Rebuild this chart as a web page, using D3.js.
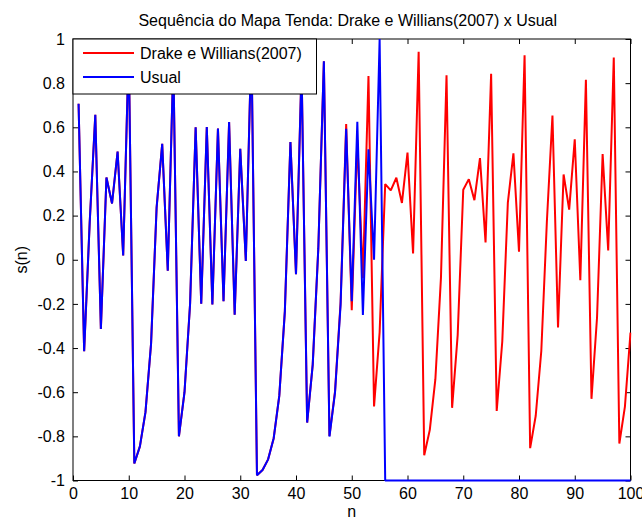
<!DOCTYPE html>
<html><head><meta charset="utf-8">
<script src="https://cdn.jsdelivr.net/npm/d3@7"></script>
<style>
body{margin:0;background:#fff}
svg{display:block}
text{font-family:"Liberation Sans",Arial,sans-serif;fill:#000}
</style>
</head><body>
<svg id="chart" width="642" height="520"></svg>
<script>
// ---------- data ----------
const chartTitle = "Sequência do Mapa Tenda: Drake e Willians(2007) x Usual";
const xLabel = "n";
const yLabel = "s(n)";
const seriesNames = ["Drake e Willians(2007)", "Usual"];
const seriesColors = ["#ff0000", "#0000ff"];

// s(n), n = 1..100
const drakeWillians = [
  0.7071, -0.4142, 0.1716, 0.6569, -0.3137, 0.3726, 0.2548, 0.4903, 0.0193, 0.9613,
  -0.9227, -0.8453, -0.6906, -0.3812, 0.2375, 0.5250, -0.0500, 0.9000, -0.8000, -0.6001,
  -0.2002, 0.5996, -0.1992, 0.6015, -0.2030, 0.5939, -0.1879, 0.6243, -0.2485, 0.5030,
  -0.0060, 0.9880, -0.9761, -0.9521, -0.9042, -0.8084, -0.6168, -0.2336, 0.5328, -0.0656,
  0.8687, -0.7374, -0.4749, 0.0502, 0.8995, -0.7982, -0.5964, -0.1927, 0.6145, -0.2290,
  0.5419, -0.0839, 0.8322, -0.6643, -0.3286, 0.3428, 0.3143, 0.3714, 0.2572, 0.4856,
  0.0287, 0.9426, -0.8853, -0.7706, -0.5412, -0.0823, 0.8353, -0.6707, -0.3413, 0.3174,
  0.3652, 0.2697, 0.4607, 0.0787, 0.8426, -0.6852, -0.3704, 0.2592, 0.4817, 0.0367,
  0.9267, -0.8533, -0.7067, -0.4133, 0.1733, 0.6533, -0.3067, 0.3865, 0.2270, 0.5460,
  -0.0925, 0.8150, -0.6300, -0.2605, 0.4790, 0.0420, 0.9160, -0.8325, -0.6650, -0.3300
];
const usual = [
  0.7071, -0.4142, 0.1716, 0.6569, -0.3137, 0.3726, 0.2548, 0.4903, 0.0193, 0.9613,
  -0.9227, -0.8453, -0.6906, -0.3812, 0.2375, 0.5250, -0.0500, 0.9000, -0.8000, -0.6001,
  -0.2002, 0.5996, -0.1992, 0.6015, -0.2030, 0.5939, -0.1879, 0.6243, -0.2485, 0.5030,
  -0.0060, 0.9880, -0.9761, -0.9521, -0.9042, -0.8084, -0.6168, -0.2336, 0.5328, -0.0656,
  0.8687, -0.7374, -0.4749, 0.0502, 0.8995, -0.8008, -0.6016, -0.2031, 0.5938, -0.1875,
  0.6250, -0.2500, 0.5000, 0.0000, 1.0000, -1, -1, -1, -1, -1,
  -1, -1, -1, -1, -1, -1, -1, -1, -1, -1,
  -1, -1, -1, -1, -1, -1, -1, -1, -1, -1,
  -1, -1, -1, -1, -1, -1, -1, -1, -1, -1,
  -1, -1, -1, -1, -1, -1, -1, -1, -1, -1
];
const xTicks = [0, 10, 20, 30, 40, 50, 60, 70, 80, 90, 100];
const yTicks = [-1, -0.8, -0.6, -0.4, -0.2, 0, 0.2, 0.4, 0.6, 0.8, 1];
const yTickLabels = ["-1", "-0.8", "-0.6", "-0.4", "-0.2", "0", "0.2", "0.4", "0.6", "0.8", "1"];

// ---------- layout ----------
const W = 642, H = 520;
const L = 73, R = 630.5, T = 39, B = 480.5;
const FS = 16;

const svg = d3.select("#chart");
const x = d3.scaleLinear().domain([0, 100]).range([L, R]);
const y = d3.scaleLinear().domain([-1, 1]).range([B, T]);

svg.append("rect").attr("width", W).attr("height", H).attr("fill", "#fff");

svg.append("defs").append("clipPath").attr("id", "clip")
  .append("rect").attr("x", L - 1).attr("y", T - 1.5).attr("width", R - L + 2).attr("height", B - T + 3);

// axes
const fmtY = v => yTickLabels[yTicks.indexOf(v)];
const axB = svg.append("g").attr("transform", `translate(0,${B})`)
  .call(d3.axisBottom(x).tickValues(xTicks).tickSize(-5).tickPadding(7).tickFormat(d3.format("d")));
const axT = svg.append("g").attr("transform", `translate(0,${T})`)
  .call(d3.axisTop(x).tickValues(xTicks).tickSize(-5).tickFormat(""));
const axL = svg.append("g").attr("transform", `translate(${L},0)`)
  .call(d3.axisLeft(y).tickValues(yTicks).tickSize(-5).tickPadding(8).tickFormat(fmtY));
const axR = svg.append("g").attr("transform", `translate(${R},0)`)
  .call(d3.axisRight(y).tickValues(yTicks).tickSize(-5).tickFormat(""));
[axB, axT, axL, axR].forEach(a => {
  a.select(".domain").remove();
  a.selectAll("line").attr("stroke", "#000").attr("stroke-width", 1);
  a.selectAll("text").attr("font-size", FS).attr("font-family", '"Liberation Sans",Arial,sans-serif').attr("fill", "#000");
});

// box
svg.append("rect").attr("x", L).attr("y", T).attr("width", R - L).attr("height", B - T)
  .attr("fill", "none").attr("stroke", "#000").attr("stroke-width", 1);

// lines (drawn over the axes box, as in the original)
const line = d3.line().x((d, i) => x(i + 1)).y(d => y(d));
const g = svg.append("g").attr("clip-path", "url(#clip)");
[drakeWillians, usual].forEach((arr, k) => {
  g.append("path").datum(arr)
    .attr("d", line)
    .attr("fill", "none")
    .attr("stroke", seriesColors[k])
    .attr("stroke-width", 2)
    .attr("stroke-linejoin", "bevel");
});

// title & labels
svg.append("text").attr("x", (L + R) / 2 - 4).attr("y", 26)
  .attr("text-anchor", "middle").attr("font-size", FS).text(chartTitle);
svg.append("text").attr("x", (L + R) / 2).attr("y", 517)
  .attr("text-anchor", "middle").attr("font-size", FS).text(xLabel);
svg.append("text").attr("transform", `translate(27,${(T + B) / 2}) rotate(-90)`)
  .attr("text-anchor", "middle").attr("font-size", FS).text(yLabel);

// legend
const lg = svg.append("g");
lg.append("rect").attr("x", L).attr("y", T).attr("width", 316.5 - L).attr("height", 94 - T)
  .attr("fill", "#fff").attr("stroke", "#000").attr("stroke-width", 1);
const legY = [53, 77];
seriesNames.forEach((name, k) => {
  lg.append("line").attr("x1", 83).attr("x2", 134).attr("y1", legY[k]).attr("y2", legY[k])
    .attr("stroke", seriesColors[k]).attr("stroke-width", 2);
  lg.append("text").attr("x", 140).attr("y", legY[k]).attr("dy", "0.35em")
    .attr("font-size", FS).text(name);
});
</script>
</body></html>
